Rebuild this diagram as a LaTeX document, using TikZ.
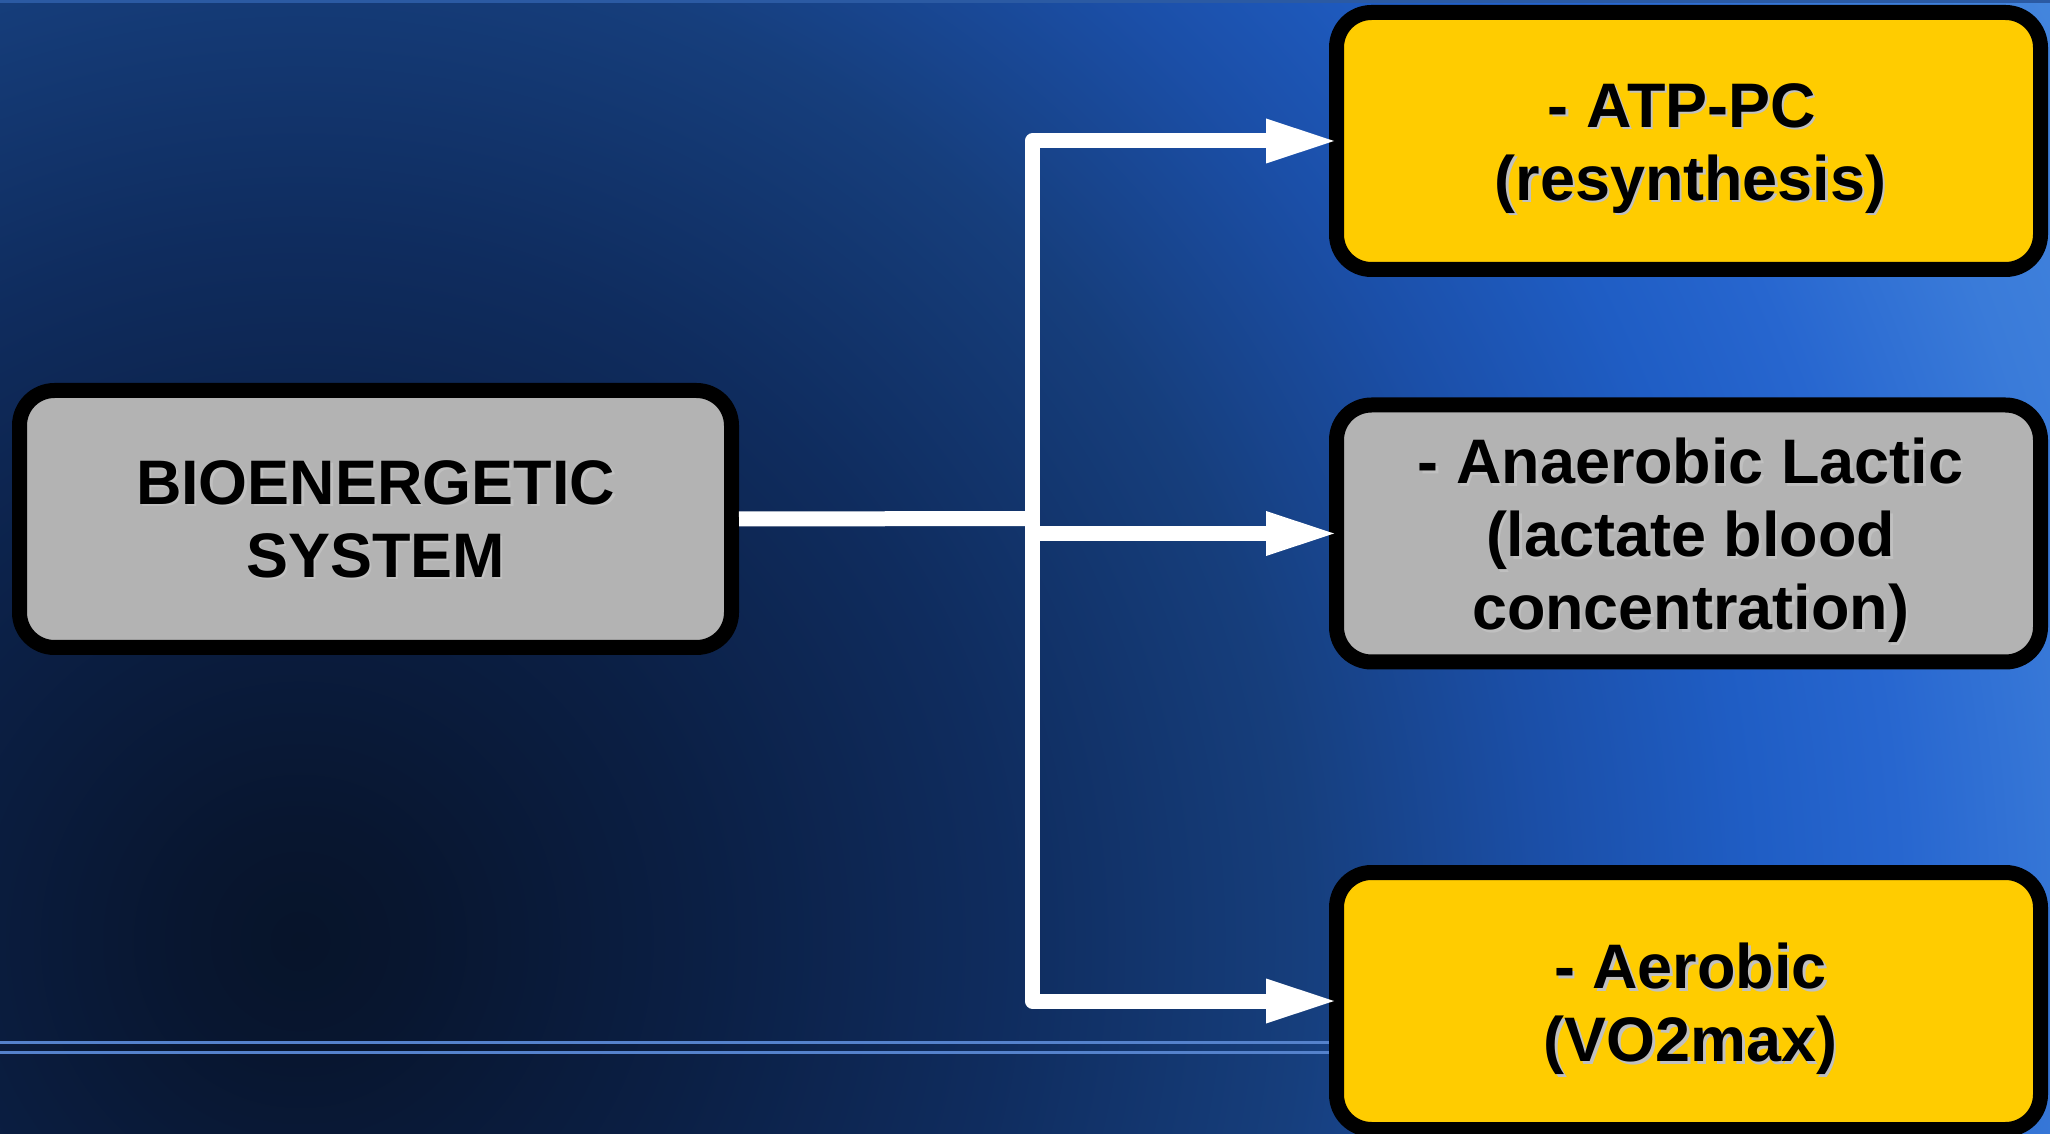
\documentclass[tikz,border=0pt]{standalone}
\usepackage{fontspec}
\setmainfont{Liberation Sans}
\usetikzlibrary{arrows.meta}

% background glow, dark core at lower left fading to bright blue
\definecolor{bg0}{HTML}{07142A}
\definecolor{bg1}{HTML}{081630}
\definecolor{bg2}{HTML}{0B1F44}
\definecolor{bg3}{HTML}{0F2C5E}
\definecolor{bg4}{HTML}{163E7C}
\definecolor{bg5}{HTML}{1B4FA8}
\definecolor{bg6}{HTML}{1F5DC4}
\definecolor{bg7}{HTML}{2766CF}
\definecolor{bg8}{HTML}{3A7BD9}
\definecolor{bg9}{HTML}{4486DE}
\pgfdeclareradialshading{bgglow}{\pgfpoint{0bp}{0bp}}{%
  color(0bp)=(bg0); color(3bp)=(bg1); color(10bp)=(bg2); color(17.5bp)=(bg3);
  color(25bp)=(bg4); color(31.25bp)=(bg5); color(36.25bp)=(bg6);
  color(40bp)=(bg7); color(45bp)=(bg8); color(50bp)=(bg9)}

\definecolor{boxgrey}{HTML}{B3B3B3}
\definecolor{boxgold}{HTML}{FFCC00}
\definecolor{shadowgrey}{HTML}{C0C0C0}
\definecolor{rulelight}{HTML}{5582CC}
\definecolor{topedge}{HTML}{2B5AA3}

\tikzset{
  panel/.style={draw=black, line width=1.5mm, rounded corners=3.5mm,
    minimum width=70.4mm, minimum height=25.7mm, inner sep=0pt},
  greypanel/.style={panel, fill=boxgrey},
  goldpanel/.style={panel, fill=boxgold},
  boxtext/.style={font=\bfseries\fontsize{17.9pt}{20.8pt}\selectfont,
    align=center, text=black, inner sep=0pt},
  boxtextshadow/.style={boxtext, text=shadowgrey},
  conn/.style={draw=white, line width=1.5mm, line join=round},
  arrowend/.style={-{Triangle[length=6.8mm, width=4.5mm, line width=0pt]},
    shorten >=-0.5mm},
}

\begin{document}
\begin{tikzpicture}[x=0.1mm, y=-0.1mm]
  \useasboundingbox (0,0) rectangle (2050,1134);

  % background: radial glow of radius 200mm around the dark core
  \begin{scope}
    \clip (0,0) rectangle (2050,1134);
    \pgftransformshift{\pgfpointxy{300}{941}}
    \pgftransformscale{11.34}
    \pgflowlevelsynccm
    \pgfuseshading{bgglow}
  \end{scope}
  \begin{scope}
    \clip (0,0) rectangle (2050,1134);
    \draw[topedge, line width=0.3mm] (0,1.5) -- (2050,1.5);
    \draw[rulelight, line width=0.3mm] (0,1042.5) -- (1340,1042.5);
    \draw[rulelight, line width=0.3mm] (0,1052.5) -- (1340,1052.5);
  \end{scope}

  % boxes
  \begin{scope}
    \clip (0,0) rectangle (2050,1134);
    \node[greypanel, minimum width=71.2mm] (bio) at (375.5,519) {};
    \node[goldpanel] (atp) at (1688.5,141) {};
    \node[greypanel] (mid) at (1688.5,533.5) {};
    \node[goldpanel] (aer) at (1688.5,1001) {};
  \end{scope}

  % box texts with a light drop shadow
  \node[boxtextshadow] (bio-sh) at ([xshift=0.25mm,yshift=-0.25mm]bio.center) {BIOENERGETIC\\SYSTEM};
  \node[boxtext] (bio-t) at (bio.center) {BIOENERGETIC\\SYSTEM};

  \node[boxtextshadow] (atp-sh) at ([xshift=0.45mm,yshift=-1.0mm]atp.center) {- ATP-PC\hphantom{\ }\\(resynthesis)};
  \node[boxtext] (atp-t) at ([xshift=0.2mm,yshift=-0.75mm]atp.center) {- ATP-PC\hphantom{\ }\\(resynthesis)};

  \node[boxtextshadow] (mid-sh) at ([xshift=0.45mm,yshift=-0.95mm]mid.center) {- Anaerobic Lactic\\(lactate blood\\concentration)};
  \node[boxtext] (mid-t) at ([xshift=0.2mm,yshift=-0.7mm]mid.center) {- Anaerobic Lactic\\(lactate blood\\concentration)};

  \node[boxtextshadow] (aer-sh) at ([xshift=0.45mm,yshift=-1.05mm]aer.center) {- Aerobic\\(VO2max)};
  \node[boxtext] (aer-t) at ([xshift=0.2mm,yshift=-0.8mm]aer.center) {- Aerobic\\(VO2max)};

  % connectors
  \coordinate (j) at (1032.5,518.5);
  \draw[conn] (bio.east) -- (j);
  \draw[conn, arrowend] (j) |- (atp.west);
  \draw[conn, arrowend] (j) |- (aer.west);
  \draw[conn, arrowend] (j |- mid.west) -- (mid.west);
\end{tikzpicture}
\end{document}
